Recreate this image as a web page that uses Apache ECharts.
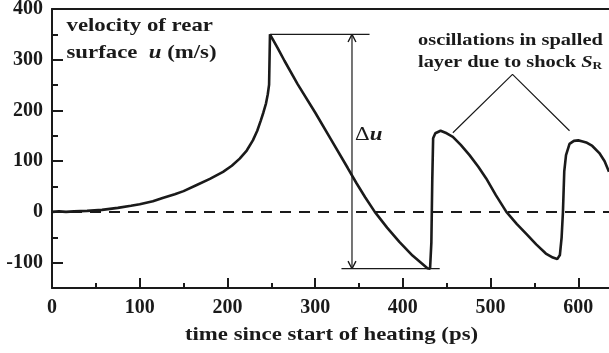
<!DOCTYPE html>
<html>
<head>
<meta charset="utf-8">
<script src="https://cdn.jsdelivr.net/npm/echarts@6/dist/echarts.min.js"></script>
<style>
  html, body { margin: 0; padding: 0; background: #fff; }
  #main { width: 609px; height: 353px; }
</style>
</head>
<body>
<div id="main"></div>
<script>
// time since start of heating (ps)
var times = [0, 8, 16, 25, 40, 57, 75, 90, 100, 115, 127, 140, 150, 165, 180, 195, 205, 214, 222, 229,
  234, 238, 241, 244, 246, 247.5, 248.5, 250, 257, 265, 280, 300, 318, 337, 347, 357, 368, 382, 396,
  411, 422, 428, 431, 432.5, 433.5, 434.5, 437, 443, 450, 457, 466, 476, 486, 495, 506, 518, 530,
  541, 552, 563, 571, 576, 579, 581, 582.5, 584, 586, 590, 595, 600, 605, 609, 616, 624, 630, 635];
// velocity of rear surface u (m/s)
var velocity = [0, 1, 0, 1, 2, 4, 8, 12, 15, 21, 28, 35, 41, 53, 65, 79, 91, 105, 121, 141,
  160, 180, 196, 214, 232, 251, 350, 350, 324, 298, 252, 196, 143, 87, 57, 29, 0, -31, -59,
  -86, -102, -111, -112, -60, 60, 145, 155, 160, 155, 148, 132, 112, 89, 66, 33, 0, -24,
  -44, -64, -82, -90, -93, -85, -50, 0, 80, 112, 134, 140, 141, 139, 137, 130, 116, 100, 79];

var xLabels = [0, 100, 200, 300, 400, 500, 600];
var xMinor = [50, 150, 250, 350, 450, 550];
var yLabels = [-100, 0, 100, 200, 300, 400];
var yMinor = [-50, 50, 150, 250, 350];

// 零线
var zeroLine = [[0, 0], [635, 0]];
// Δu 标注
var duTop = [[249, 350], [362, 350]];
var duBottom = [[330, -112], [442, -112]];
var duArrow = [[342, 350], [342, -112]];
var headTop = [[337.5, 335], [342, 350], [346.5, 335]];
var headBottom = [[337.5, -97], [342, -112], [346.5, -97]];
// 振荡标注引线
var callout = [[457, 156], [525, 271], [590, 160]];

var ink = '#1a1a1a';
var serif = '"Liberation Serif", "Times New Roman", serif';

function guide(points, width, type) {
  return {
    type: 'line',
    data: points,
    showSymbol: false,
    silent: true,
    z: 2,
    lineStyle: { color: ink, width: width || 1.2, type: type || 'solid' }
  };
}

function txt(x, y, text, size, align, rich) {
  return {
    type: 'text', x: x, y: y, scaleX: 1.2,
    style: {
      text: text, fill: ink,
      fontFamily: serif, fontWeight: 'bold', fontSize: size,
      align: align || 'left', verticalAlign: 'middle',
      rich: rich || {}
    }
  };
}

function getecharts() {
  var myChart = echarts.init(document.getElementById('main'));
  var tickStyle = { color: ink, width: 2 };
  var labelStyle = { color: ink, fontFamily: serif, fontWeight: 'bold', fontSize: 20, lineHeight: 14 };

  myChart.setOption({
    animation: false,
    backgroundColor: '#fff',
    grid: { left: 52, right: 0, top: 9, bottom: 65, outerBoundsMode: 'none' },
    xAxis: [
      {
        type: 'value', min: 0, max: 635, position: 'bottom',
        axisLine: { onZero: false, lineStyle: tickStyle },
        axisTick: { inside: true, length: 10, customValues: xLabels, lineStyle: tickStyle },
        axisLabel: Object.assign({ customValues: xLabels, margin: 13 }, labelStyle),
        splitLine: { show: false }
      },
      {
        type: 'value', min: 0, max: 635, position: 'bottom',
        axisLine: { show: false, onZero: false },
        axisTick: { inside: true, length: 5, customValues: xMinor, lineStyle: tickStyle },
        axisLabel: { show: false },
        splitLine: { show: false }
      },
      {
        type: 'value', min: 0, max: 635, position: 'top',
        axisLine: { onZero: false, lineStyle: tickStyle },
        axisTick: { show: false },
        axisLabel: { show: false },
        splitLine: { show: false }
      }
    ],
    yAxis: [
      {
        type: 'value', min: -150, max: 400, position: 'left',
        axisLine: { show: true, onZero: false, lineStyle: tickStyle },
        axisTick: { show: true, inside: true, length: 11, customValues: yLabels, lineStyle: tickStyle },
        axisLabel: Object.assign({ customValues: yLabels, margin: 9 }, labelStyle),
        splitLine: { show: false }
      },
      {
        type: 'value', min: -150, max: 400, position: 'left', offset: 0,
        axisLine: { show: false, onZero: false },
        axisTick: { show: true, inside: true, length: 6, customValues: yMinor, lineStyle: tickStyle },
        axisLabel: { show: false },
        splitLine: { show: false }
      }
    ],
    series: [
      guide(zeroLine, 2, [11, 8]),
      guide(duTop),
      guide(duBottom),
      guide(duArrow),
      guide(headTop, 1.4),
      guide(headBottom, 1.4),
      guide(callout),
      {
        type: 'line',
        data: times.map(function (t, i) { return [t, velocity[i]]; }),
        showSymbol: false,
        z: 3,
        lineStyle: { color: ink, width: 2.6 }
      }
    ],
    graphic: [
      txt(66.5, 26, 'velocity of rear', 19),
      txt(66.5, 53.5, 'surface  {i|u} (m/s)', 19, 'left', {
        i: { fontStyle: 'italic', fontWeight: 'bold', fontSize: 19, fontFamily: serif }
      }),
      txt(418, 41, 'oscillations in spalled', 17),
      txt(418, 63, 'layer due to shock {s|S}{r|R}', 17, 'left', {
        s: { fontStyle: 'italic', fontWeight: 'bold', fontSize: 17, fontFamily: serif },
        r: { fontWeight: 'bold', fontSize: 11, fontFamily: serif, verticalAlign: 'bottom', padding: [6, 0, 0, 0] }
      }),
      txt(355, 135.5, '{d|\u0394}{i|u}', 19, 'left', {
        d: { fontWeight: 'normal', fontSize: 19, fontFamily: serif },
        i: { fontStyle: 'italic', fontWeight: 'bold', fontSize: 19, fontFamily: serif }
      }),
      txt(331.5, 335, 'time since start of heating (ps)', 19, 'center')
    ]
  });
}

getecharts();
</script>
</body>
</html>
